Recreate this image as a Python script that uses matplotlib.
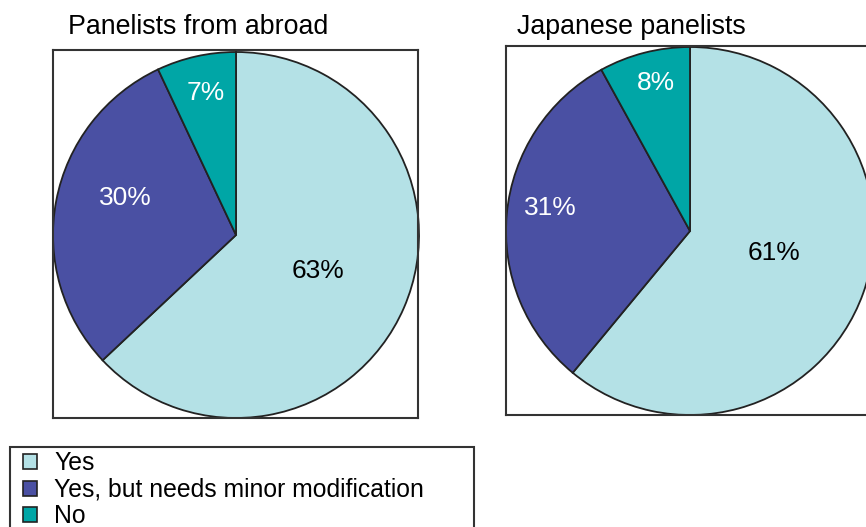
import numpy as np
import matplotlib.pyplot as plt
from matplotlib.patches import Patch, Rectangle

plt.rcParams['font.family'] = ['Liberation Sans', 'DejaVu Sans']

categories = ['Yes', 'Yes, but needs minor modification', 'No']
abroad = [63, 30, 7]
japanese = [61, 31, 8]
colors = ['#b4e1e6', '#4a50a3', '#00a6a6']
text_colors = ['black', 'white', 'white']

W, H = 866, 527
fig = plt.figure(figsize=(W / 100, H / 100), dpi=100)


def px_axes(x0, y0, x1, y1):
    # pixel box (top-left origin) -> axes
    return fig.add_axes([x0 / W, (H - y1) / H, (x1 - x0) / W, (y1 - y0) / H])


def draw_pie(ax, vals, box, center, radius, title, title_x, lab_r, lab_off):
    x0, y0, x1, y1 = box
    cx, cy = center[0] - x0, y1 - center[1]
    wedges, _ = ax.pie(vals, colors=colors, startangle=90, counterclock=False,
                       center=(cx, cy), radius=radius, frame=True,
                       wedgeprops=dict(edgecolor='#222222', linewidth=1.3))
    ax.set_xlim(0, x1 - x0)
    ax.set_ylim(0, y1 - y0)
    ax.set_aspect('auto')
    ax.set_xticks([])
    ax.set_yticks([])
    for s in ax.spines.values():
        s.set_linewidth(1.5)
        s.set_edgecolor('#333333')
    for w, v, tc, fr, off in zip(wedges, vals, text_colors, lab_r, lab_off):
        ang = np.deg2rad((w.theta1 + w.theta2) / 2 + off)
        ax.text(cx + fr * radius * np.cos(ang), cy + fr * radius * np.sin(ang) - 3,
                f'{v}%', color=tc, fontsize=19, ha='center', va='center')
    fig.text(title_x / W, 1 - 27 / H, title, fontsize=19.3, ha='left', va='center')


ax1 = px_axes(53, 50, 418, 418)
draw_pie(ax1, abroad, (53, 50, 418, 418), (236, 235), 183,
         'Panelists from abroad', 68, [0.48, 0.64, 0.81], [1.5, -9, -1])

ax2 = px_axes(506, 46, 870, 415)
draw_pie(ax2, japanese, (506, 46, 870, 415), (690, 231), 184,
         'Japanese panelists', 517, [0.47, 0.77, 0.84], [7, -5, -1.5])

# legend box
fig.patches.append(Rectangle((10 / W, -0.05), 464 / W, (527 - 447) / H + 0.05,
                             transform=fig.transFigure, facecolor='white',
                             edgecolor='#333333', linewidth=1.5))
handles = [Patch(facecolor=c, edgecolor='#222222', linewidth=1.2) for c in colors]
fig.legend(handles, categories, loc='upper left',
           bbox_to_anchor=(21 / W, 1 - 449 / H), frameon=False, fontsize=17.8,
           handlelength=0.55, handleheight=0.55, handletextpad=0.7,
           labelspacing=0.1, borderpad=0.1, borderaxespad=0)

fig.savefig('out.png', dpi=100)
